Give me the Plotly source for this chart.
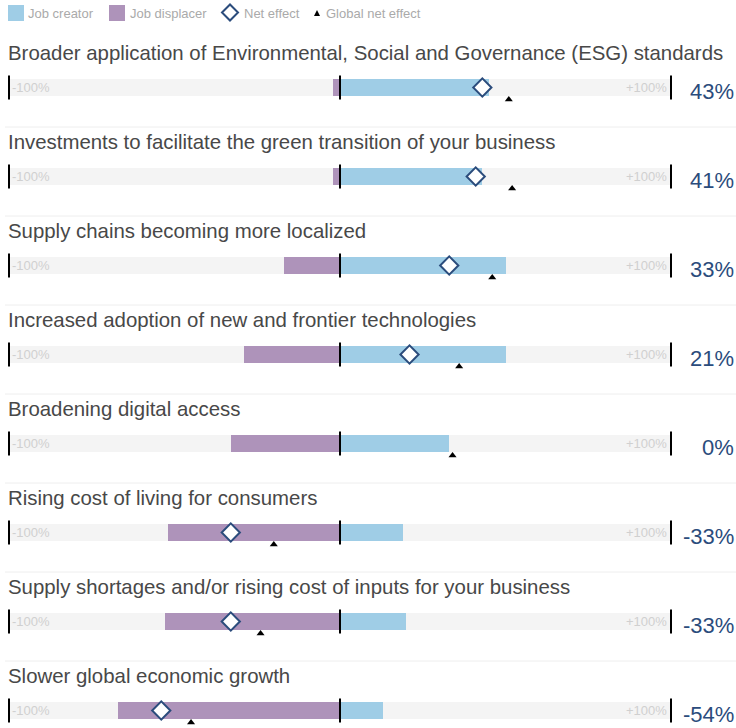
import plotly.graph_objects as go

# ---- data ----
categories = [
    "Broader application of Environmental, Social and Governance (ESG) standards",
    "Investments to facilitate the green transition of your business",
    "Supply chains becoming more localized",
    "Increased adoption of new and frontier technologies",
    "Broadening digital access",
    "Rising cost of living for consumers",
    "Supply shortages and/or rising cost of inputs for your business",
    "Slower global economic growth",
]
job_creator = [45, 43, 50, 50, 33, 19, 20, 13]
job_displacer = [2, 2, 17, 29, 33, 52, 53, 67]
net_effect = [43, 41, 33, 21, 0, -33, -33, -54]
global_net_effect = [51, 52, 46, 36, 34, -20, -24, -45]
net_labels = ["43%", "41%", "33%", "21%", "0%", "-33%", "-33%", "-54%"]

# ---- style / geometry ----
OFF = 0
W, H = 736, 728
BLUE = "#9fcde6"
PURPLE = "#ae93ba"
TRACK = "#f4f4f4"
NAVY = "#2b4c7c"
FONT = "Liberation Sans, Arial, sans-serif"

# x: -100 at page px 9, +100 at page px 671
pxu = (671 - 9) / 200.0
xa = -100 - (9 - OFF) / pxu
xb = xa + W / pxu
row_step = 89.0
first_center = 87.5 - OFF
ya_top = -first_center / row_step
ya_bot = (H - first_center) / row_step
bar_w = 17 / row_step

rows = list(range(len(categories)))

def px(xp):  # page px -> paper x
    return (xp - OFF) / W

def py(yp):  # page px -> paper y
    return 1 - (yp - OFF) / H

fig = go.Figure()
# track
fig.add_trace(go.Bar(y=rows, x=[200] * len(rows), base=[-100] * len(rows), orientation="h",
                     width=bar_w, marker=dict(color=TRACK, line=dict(width=0)),
                     hoverinfo="skip", showlegend=False))
# displacer
fig.add_trace(go.Bar(y=rows, x=[-v for v in job_displacer], base=[0] * len(rows), orientation="h",
                     width=bar_w, marker=dict(color=PURPLE, line=dict(width=0)),
                     name="Job displacer", showlegend=False))
# creator
fig.add_trace(go.Bar(y=rows, x=job_creator, base=[0] * len(rows), orientation="h",
                     width=bar_w, marker=dict(color=BLUE, line=dict(width=0)),
                     name="Job creator", showlegend=False))
# black ticks at -100, 0, +100
for xv in (-100, 0, 100):
    fig.add_trace(go.Scatter(x=[xv] * len(rows), y=rows, mode="markers",
                             marker=dict(symbol="line-ns-open", size=17, color="black",
                                         line=dict(color="black", width=2)),
                             hoverinfo="skip", showlegend=False))
# net effect diamonds (hidden when zero)
nz = [i for i in rows if net_effect[i] != 0]
fig.add_trace(go.Scatter(x=[net_effect[i] for i in nz], y=nz, mode="markers",
                         marker=dict(symbol="diamond", size=14, color="white", line=dict(color=NAVY, width=2)),
                         name="Net effect", showlegend=False))
# global net effect triangles
tri_off = 12 / row_step
fig.add_trace(go.Scatter(x=global_net_effect, y=[i + tri_off for i in rows], mode="markers",
                         marker=dict(symbol="triangle-up", size=7, color="black"),
                         name="Global net effect", showlegend=False))

annotations = []
shapes = []
for i in rows:
    annotations.append(dict(xref="paper", yref="y", x=px(6), y=i - 34.5 / row_step, text=categories[i],
                            showarrow=False, xanchor="left", yanchor="middle",
                            font=dict(family=FONT, size=20.4, color="#484848")))
    annotations.append(dict(xref="paper", yref="y", x=px(736), y=i + 4 / row_step, text=net_labels[i],
                            showarrow=False, xanchor="right", yanchor="middle",
                            font=dict(family=FONT, size=22, color=NAVY)))
    annotations.append(dict(xref="x", yref="y", x=-99.6, y=i, text="-100%", showarrow=False,
                            xanchor="left", yanchor="middle", font=dict(family=FONT, size=13, color="#d0d0d0")))
    annotations.append(dict(xref="x", yref="y", x=99.3, y=i, text="+100%", showarrow=False,
                            xanchor="right", yanchor="middle", font=dict(family=FONT, size=13, color="#d0d0d0")))
    if i < len(rows) - 1:
        shapes.append(dict(type="line", xref="paper", yref="y", x0=px(5), x1=1, y0=i + 39.5 / row_step,
                           y1=i + 39.5 / row_step, line=dict(color="#eeeeee", width=1), layer="below"))

# legend (manual)
shapes.append(dict(type="rect", xref="paper", yref="paper", x0=px(8), x1=px(24), y0=py(21), y1=py(5),
                   fillcolor=BLUE, line=dict(width=0)))
shapes.append(dict(type="rect", xref="paper", yref="paper", x0=px(109), x1=px(125), y0=py(21), y1=py(5),
                   fillcolor=PURPLE, line=dict(width=0)))
cx, cy = 230, 12.5
shapes.append(dict(type="path", xref="paper", yref="paper",
                   path=f"M {px(cx-8)},{py(cy)} L {px(cx)},{py(cy-8)} L {px(cx+8)},{py(cy)} L {px(cx)},{py(cy+8)} Z",
                   fillcolor="white", line=dict(color=NAVY, width=2)))
tx, ty = 317, 13
shapes.append(dict(type="path", xref="paper", yref="paper",
                   path=f"M {px(tx-3)},{py(ty+3)} L {px(tx+3)},{py(ty+3)} L {px(tx)},{py(ty-3)} Z",
                   fillcolor="black", line=dict(width=0)))
for xt, t in ((26, "Job creator"), (128, "Job displacer"), (242, "Net effect"), (324, "Global net effect")):
    annotations.append(dict(xref="paper", yref="paper", x=px(xt), y=py(13), text=t, showarrow=False,
                            xanchor="left", yanchor="middle", font=dict(family=FONT, size=13, color="#aaaaaa")))

fig.update_layout(
    width=W, height=H, margin=dict(l=0, r=0, t=0, b=0),
    paper_bgcolor="white", plot_bgcolor="white",
    barmode="overlay", bargap=0,
    xaxis=dict(range=[xa, xb], visible=False, fixedrange=True),
    yaxis=dict(range=[ya_bot, ya_top], visible=False, fixedrange=True),
    annotations=annotations, shapes=shapes, showlegend=False,
    font=dict(family=FONT),
)
fig.write_html("out.html", config={"displayModeBar": False},
               post_script="document.body.style.margin='0';document.body.style.overflow='hidden';")
